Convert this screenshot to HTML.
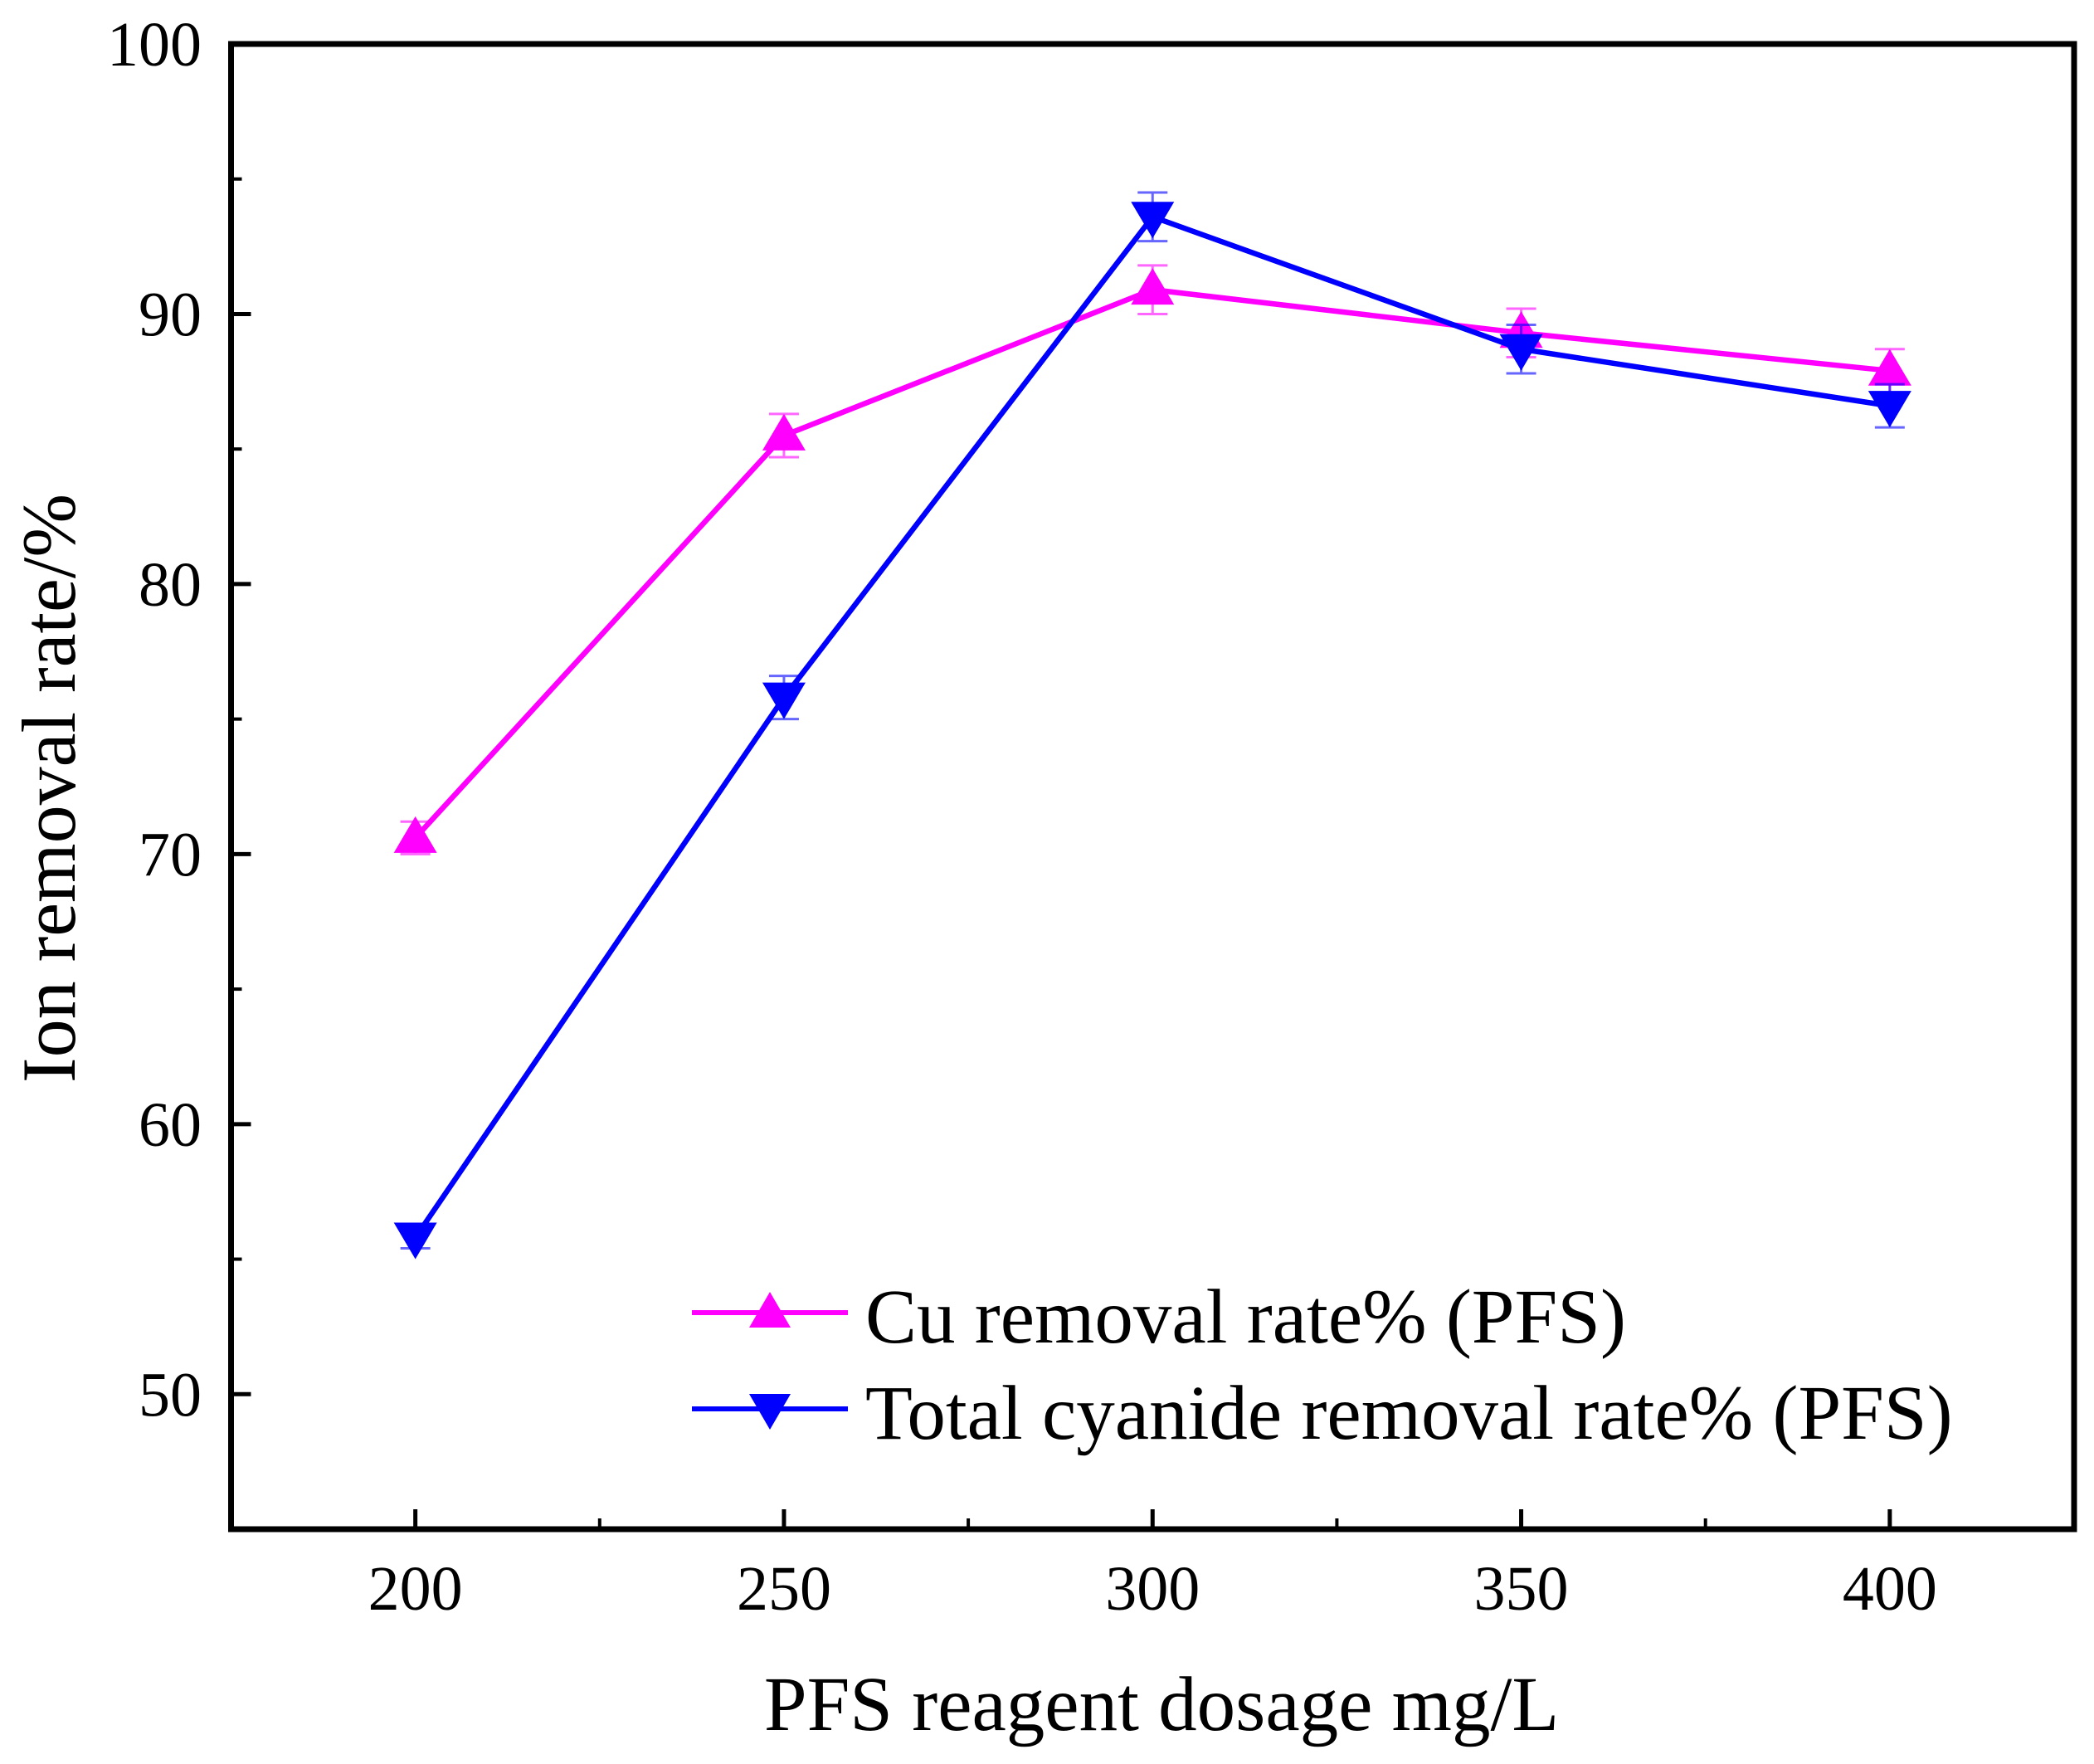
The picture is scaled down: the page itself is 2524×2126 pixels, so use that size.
<!DOCTYPE html>
<html><head><meta charset="utf-8"><style>
html,body{margin:0;padding:0;background:#fff;}
svg{display:block;font-family:"Liberation Serif","Times New Roman",serif;}
</style></head><body>
<svg id="chart" width="2524" height="2126" viewBox="0 0 2524 2126" xmlns="http://www.w3.org/2000/svg">
<rect x="0" y="0" width="2524" height="2126" fill="#fff"/>
<g id="plot"></g>
<g id="axes"></g>
<text x="1400" y="2085" font-size="93" text-anchor="middle">PFS reagent dosage mg/L</text>
<text transform="translate(90,950) rotate(-90)" font-size="92" text-anchor="middle">Ion removal rate/%</text>
<g>
  <line x1="834" y1="1582" x2="1022" y2="1582" stroke="#ff00ff" stroke-width="6"/>
  <polygon points="928,1557 953,1600 903,1600" fill="#ff00ff"/>
  <text x="1043" y="1618" font-size="93">Cu removal rate% (PFS)</text>
  <line x1="834" y1="1698" x2="1022" y2="1698" stroke="#0000ff" stroke-width="6"/>
  <polygon points="903,1680 953,1680 928,1723" fill="#0000ff"/>
  <text x="1043" y="1734" font-size="93">Total cyanide removal rate% (PFS)</text>
</g>
</svg>
<script>
const categories = [200, 250, 300, 350, 400];
const cuValues = [70.6, 85.5, 90.9, 89.3, 87.9];
const cuErrors = [0.6, 0.8, 0.9, 0.9, 0.8];
const cyanideValues = [55.8, 75.8, 93.6, 88.7, 86.6];
const cyanideErrors = [0.4, 0.8, 0.9, 0.9, 0.8];
const xTickLabels = ["200", "250", "300", "350", "400"];
const yTickLabels = ["50", "60", "70", "80", "90", "100"];

const L=278.5, R=2500, T=53, B=1843;
const xMin=175, xMax=425, yMin=45, yMax=100;
const sx=v=>L+(v-xMin)/(xMax-xMin)*(R-L);
const sy=v=>B-(v-yMin)/(yMax-yMin)*(B-T);
const NS="http://www.w3.org/2000/svg";
function mk(tag,attrs,parent){const e=document.createElementNS(NS,tag);for(const k in attrs)e.setAttribute(k,attrs[k]);parent.appendChild(e);return e;}
const plot=document.getElementById('plot'), axes=document.getElementById('axes');

function series(vals,errs,color,up,name){
  const pts=categories.map((c,i)=>sx(c)+','+sy(vals[i])).join(' ');
  const pl=mk('polyline',{points:pts,fill:'none',stroke:color,'stroke-width':6.5,'stroke-linejoin':'round'},plot);
  
  
  categories.forEach((c,i)=>{
    const x=sx(c), y=sy(vals[i]), y1=sy(vals[i]+errs[i]), y2=sy(vals[i]-errs[i]);
    const eb=mk('path',{d:`M${x},${y1}V${y2}M${x-18},${y1}H${x+18}M${x-18},${y2}H${x+18}`,stroke:color,'stroke-width':3,fill:'none','stroke-opacity':0.6},plot);
    
    
    const p= up ? `${x},${y-26} ${x+26},${y+18} ${x-26},${y+18}` : `${x-26},${y-18} ${x+26},${y-18} ${x},${y+26}`;
    const m=mk('polygon',{points:p,fill:color},plot);
    
    
  });
}
series(cuValues,cuErrors,'#ff00ff',true,'cu');
series(cyanideValues,cyanideErrors,'#0000ff',false,'cyanide');

const fr=mk('rect',{x:L,y:T,width:R-L,height:B-T,fill:'none',stroke:'#000','stroke-width':7},axes);


xTickLabels.forEach((t,i)=>{
  const x=sx(categories[i]);
  const tk=mk('line',{x1:x,y1:B,x2:x,y2:B-24,stroke:'#000','stroke-width':5},axes);
  
  
  const tx=mk('text',{x:x,y:1940,'font-size':76,'text-anchor':'middle'},axes);
  tx.textContent=t;
  
  
  if(i<xTickLabels.length-1){
    const xm=sx(categories[i]+25);
    const mt=mk('line',{x1:xm,y1:B,x2:xm,y2:B-13,stroke:'#000','stroke-width':4},axes);
    
    
  }
});
yTickLabels.forEach((t,i)=>{
  const v=parseFloat(t), y=sy(v);
  const tk=mk('line',{x1:L,y1:y,x2:L+24,y2:y,stroke:'#000','stroke-width':5},axes);
  
  
  const tx=mk('text',{x:243,y:y+26,'font-size':76,'text-anchor':'end'},axes);
  tx.textContent=t;
  
  
  const ym=sy(v+5);
  if(v+5<yMax){
    const mt=mk('line',{x1:L,y1:ym,x2:L+13,y2:ym,stroke:'#000','stroke-width':4},axes);
    
    
  }
});
</script>
</body></html>
